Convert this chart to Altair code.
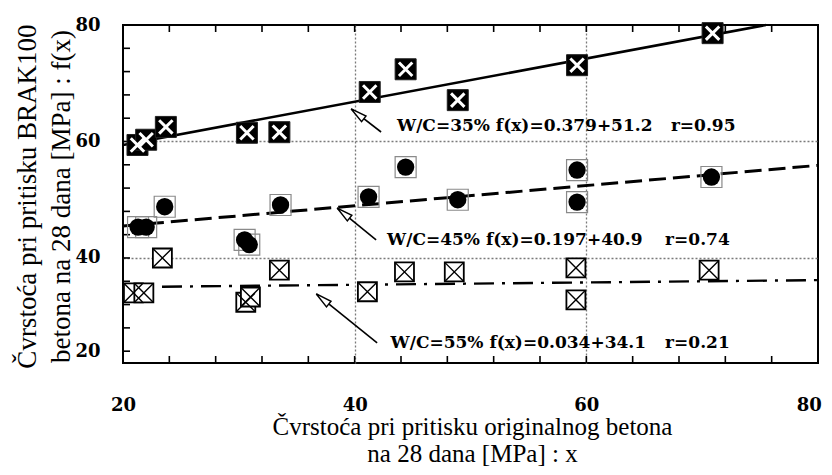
import altair as alt
import pandas as pd

# ---------------- data ----------------
# W/C = 35 %  (black squares with white cross)
x35 = [21.25, 22.0, 23.7, 30.7, 33.5, 41.3, 44.4, 48.9, 59.2, 70.9]
y35 = [59.4, 60.3, 62.5, 61.5, 61.6, 68.5, 72.4, 67.1, 73.1, 78.6]
# W/C = 45 %  (filled circles in squares)
x45 = [21.3, 22.0, 23.6, 30.5, 30.9, 33.6, 41.2, 44.4, 48.9, 59.2, 59.2, 70.8]
y45 = [45.3, 45.3, 48.8, 43.1, 42.3, 49.1, 50.5, 55.6, 50.0, 55.1, 49.6, 53.9]
# W/C = 55 %  (open squares with cross)
x55 = [20.9, 21.8, 23.4, 30.6, 31.0, 33.5, 41.1, 44.3, 48.6, 59.1, 59.1, 70.6]
y55 = [34.0, 34.0, 40.0, 32.4, 33.3, 37.9, 34.2, 37.6, 37.6, 38.3, 32.8, 37.9]

# regression lines (end points)
fit35_x = [20.0, 75.5]
fit35_y = [59.4, 80.0]
fit45_x = [20.0, 80.0]
fit45_y = [45.5, 55.9]
fit55_x = [20.0, 80.0]
fit55_y = [35.0, 36.2]

# annotations
eq_text = ["W/C=35% f(x)=0.379+51.2", "W/C=45% f(x)=0.197+40.9", "W/C=55% f(x)=0.034+34.1"]
eq_x = [43.66, 42.8, 43.1]
eq_y = [62.66, 43.1, 25.4]
r_text = ["r=0.95", "r=0.74", "r=0.21"]
r_x = [67.3, 66.8, 66.8]
arrow_tail_x = [42.28, 41.85, 41.94]
arrow_tail_y = [61.63, 43.09, 25.41]
arrow_tip_x = [39.70, 38.49, 36.69]
arrow_tip_y = [65.58, 48.58, 33.82]
arrow_angle = [308, 309, 309]

# axes (label positions as they sit in the scanned figure)
x_major = [20, 40, 60, 79.2]
x_major_text = ["20", "40", "60", "80"]
y_major = [24, 40, 60, 80]
y_major_text = ["20", "40", "60", "80"]
minor = [24, 28, 32, 36, 40, 44, 48, 52, 56, 60, 64, 68, 72, 76]
grid_vals = [40, 60]
x_domain = [20, 80]
y_domain = [21.97, 80]
x_title = ["Čvrstoća pri pritisku originalnog betona", "na 28 dana [MPa] : x"]
y_title = ["Čvrstoća pri pritisku BRAK100", "betona na 28 dana [MPa] : f(x)"]

# ---------------- layout ----------------
W, H = 695, 338
TICK = 7
LABEL_FONT = "DejaVu Serif"
TITLE_FONT = "Liberation Serif"

xs = alt.Scale(domain=x_domain, nice=False, zero=False)
ys = alt.Scale(domain=y_domain, nice=False, zero=False)


def label_expr(vals, texts):
    return " : ".join(f"datum.value == {v} ? '{t}'" for v, t in zip(vals, texts)) + " : datum.label"


ax_x_main = alt.Axis(orient="bottom", values=x_major, labelExpr=label_expr(x_major, x_major_text),
                     labelFont=LABEL_FONT,
                     labelFontWeight="bold", labelFontSize=18, labelColor="black",
                     labelPadding=33, labelFlush=False, labelOverlap=False,
                     ticks=False, tickSize=0, domain=False, grid=False,
                     title=x_title, titleFont=TITLE_FONT, titleFontSize=25,
                     titleFontWeight="normal", titleColor="black", titleX=349, titleY=71,
                     titleBaseline="alphabetic", titleAlign="center", titleLineHeight=27)
ax_y_main = alt.Axis(orient="left", values=y_major, labelExpr=label_expr(y_major, y_major_text),
                     labelFont=LABEL_FONT,
                     labelFontWeight="bold", labelFontSize=18, labelColor="black",
                     labelPadding=23, labelFlush=False, labelOverlap=False,
                     ticks=False, tickSize=0, domain=False, grid=False,
                     title=y_title, titleFont=TITLE_FONT, titleFontSize=27,
                     titleFontWeight="normal", titleColor="black", titleX=-88, titleY=171,
                     titleAngle=270, titleBaseline="alphabetic", titleAlign="center",
                     titleLineHeight=34)


def grid_axis(orient):
    return alt.Axis(orient=orient, values=grid_vals, labels=False, ticks=False,
                    domain=False, grid=True, gridDash=[2, 2], gridColor="#7a7a7a",
                    gridWidth=1.3, title=None)


def enc(x="x:Q", y="y:Q", xa=None, ya=None):
    return dict(x=alt.X(x, scale=xs, axis=xa), y=alt.Y(y, scale=ys, axis=ya))


d35 = pd.DataFrame({"x": x35, "y": y35})
d45 = pd.DataFrame({"x": x45, "y": y45})
d55 = pd.DataFrame({"x": x55, "y": y55})
f35 = pd.DataFrame({"x": fit35_x, "y": fit35_y})
f45 = pd.DataFrame({"x": fit45_x, "y": fit45_y})
f55 = pd.DataFrame({"x": fit55_x, "y": fit55_y})
ann = pd.DataFrame({"t": eq_text, "x": eq_x, "y": eq_y, "r": r_text, "rx": r_x})
arr = pd.DataFrame({"x": arrow_tail_x, "y": arrow_tail_y, "x2": arrow_tip_x,
                    "y2": arrow_tip_y, "a": arrow_angle})
ticks_df = pd.DataFrame({"v": minor})

X_PATH = "M-1,-1L1,1M1,-1L-1,1"
HEAD_PATH = "M0,0L0.45,2L-0.45,2Z"

# regression lines (carry the axes)
l35 = alt.Chart(f35).mark_line(color="black", strokeWidth=2.6).encode(
    **enc(xa=ax_x_main, ya=ax_y_main))
l45 = alt.Chart(f45).mark_line(color="black", strokeWidth=3, strokeDash=[17, 7]).encode(
    **enc(xa=grid_axis("bottom"), ya=grid_axis("left")))
l55 = alt.Chart(f55).mark_line(color="black", strokeWidth=2.4,
                               strokeDash=[20, 8, 3, 8]).encode(**enc())

# inward tick marks on top, bottom and left frame edges
tick_rule = dict(color="black", strokeWidth=1.6)
t_top = alt.Chart(ticks_df).mark_rule(**tick_rule).encode(
    x=alt.X("v:Q", scale=xs, axis=None), y=alt.value(0), y2=alt.value(TICK))
t_bot = alt.Chart(ticks_df).mark_rule(**tick_rule).encode(
    x=alt.X("v:Q", scale=xs, axis=None), y=alt.value(H), y2=alt.value(H - TICK))
t_left = alt.Chart(ticks_df).mark_rule(**tick_rule).encode(
    y=alt.Y("v:Q", scale=ys, axis=None), x=alt.value(0), x2=alt.value(TICK))

# markers
m55_sq = alt.Chart(d55).mark_point(shape="square", filled=True, fill="white", stroke="black",
                                   strokeWidth=1.8, size=361, opacity=1).encode(**enc())
m55_x = alt.Chart(d55).mark_point(shape=X_PATH, filled=False, stroke="black",
                                  strokeWidth=1.4, size=330, opacity=1).encode(**enc())
m45_sq = alt.Chart(d45).mark_point(shape="square", filled=False, stroke="#8a8a8a",
                                   strokeWidth=1.2, size=441, opacity=1).encode(**enc())
m45_c = alt.Chart(d45).mark_circle(color="black", size=300, opacity=1).encode(**enc())
m35_sq = alt.Chart(d35).mark_point(shape="square", filled=True, fill="black",
                                   stroke="#222", strokeWidth=1, size=441, opacity=1).encode(**enc())
m35_x = alt.Chart(d35).mark_point(shape=X_PATH, filled=False, stroke="white",
                                  strokeWidth=3, size=180, opacity=1).encode(**enc())

# arrows + text
arr_line = alt.Chart(arr).mark_rule(color="black", strokeWidth=1.6).encode(
    x=alt.X("x:Q", scale=xs, axis=None), y=alt.Y("y:Q", scale=ys, axis=None),
    x2="x2:Q", y2="y2:Q")
arr_head = alt.Chart(arr).mark_point(shape=HEAD_PATH, filled=True, fill="white",
                                     stroke="black", strokeWidth=1.4, size=256,
                                     opacity=1).encode(
    x=alt.X("x2:Q", scale=xs, axis=None), y=alt.Y("y2:Q", scale=ys, axis=None),
    angle=alt.Angle("a:Q", scale=None))
txt_eq = alt.Chart(ann).mark_text(align="left", baseline="middle", font=LABEL_FONT,
                                  fontWeight="bold", fontSize=17, color="black").encode(
    **enc(), text="t:N")
txt_r = alt.Chart(ann).mark_text(align="left", baseline="middle", font=LABEL_FONT,
                                 fontWeight="bold", fontSize=17, color="black").encode(
    x=alt.X("rx:Q", scale=xs, axis=None), y=alt.Y("y:Q", scale=ys, axis=None), text="r:N")

chart = alt.layer(
    l35, l45, l55, t_top, t_bot, t_left,
    m55_sq, m55_x, m45_sq, m45_c, m35_sq, m35_x,
    arr_line, arr_head, txt_eq, txt_r,
).resolve_axis(x="independent", y="independent").properties(
    width=W, height=H,
    autosize=alt.AutoSizeParams(type="none"),
    padding={"left": 115, "top": 17, "right": 6, "bottom": 104},
    background="white",
).configure_view(stroke="black", strokeWidth=2)

chart.save("out.html", embed_options={"renderer": "svg", "actions": False})
